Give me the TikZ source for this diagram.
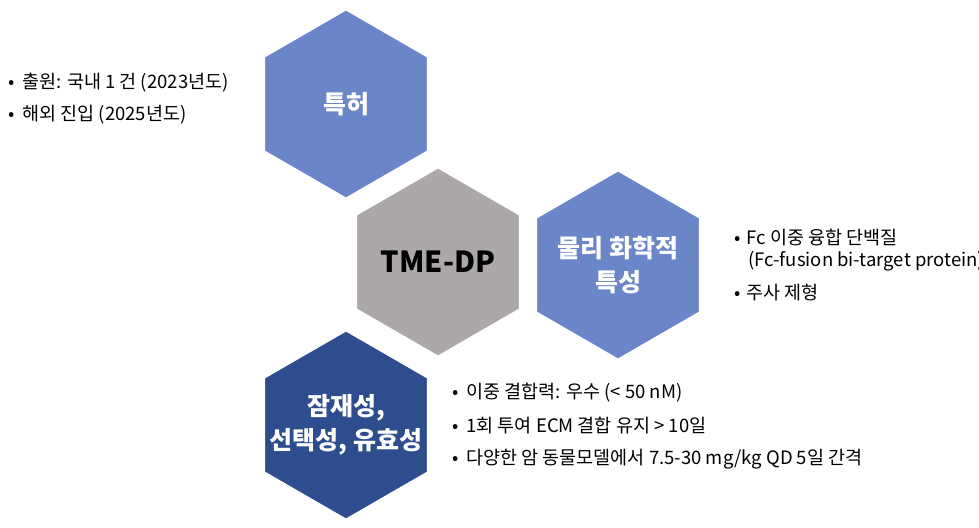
\documentclass[tikz,border=0pt]{standalone}
\usepackage{fontspec}
\setmainfont{Noto Sans CJK KR}
\usetikzlibrary{shapes.geometric}
\definecolor{lb}{HTML}{6A86C8}
\definecolor{gr}{HTML}{ADA8A8}
\definecolor{db}{HTML}{2E4D8E}
\tikzset{hex/.style={regular polygon,regular polygon sides=6,shape border rotate=30,minimum size=188pt,inner sep=0pt,draw=white,line width=1pt},
hextext/.style={align=center,font=\bfseries\fontsize{25}{34}\selectfont,text=white,inner sep=0pt},
bul/.style={anchor=west,font=\fontsize{18.5}{22}\selectfont,align=left,inner sep=0pt}}
\begin{document}
\begin{tikzpicture}[x=1pt,y=-1pt]
\useasboundingbox (0,0) rectangle (979,527);
\node[hex,fill=lb] (pat) at (346,104) {};
\node[hextext] (patt) at (pat.center) {특허};
\node[hex,fill=gr] (tme) at (438,262) {};
\node[hextext,text=black,font=\bfseries\fontsize{29}{34}\selectfont] (tmet) at (tme.center) {TME-DP};
\node[hex,fill=lb] (phy) at (618,265) {};
\node[hextext] (phyt) at (phy.center) {물리 화학적\\특성};
\node[hex,fill=db] (pot) at (346,425) {};
\node[hextext] (pott) at (pot.center) {잠재성,\\선택성, 유효성};
\node[bul] (a1) at (8,83) {•\hspace{8pt}출원: 국내 1 건 (2023년도)};
\node[bul] (a2) at (8,115) {•\hspace{8pt}해외 진입 (2025년도)};
\node[bul] (b1) at (734,250) {•\hspace{6pt}Fc 이중 융합 단백질\\\hspace{14pt}(Fc-fusion bi-target protein)};
\node[bul] (b2) at (734,292) {•\hspace{6pt}주사 제형};
\node[bul] (c1) at (452,393) {•\hspace{8pt}이중 결합력: 우수 (< 50 nM)};
\node[bul] (c2) at (452,426) {•\hspace{8pt}1회 투여 ECM 결합 유지 > 10일};
\node[bul] (c3) at (452,459) {•\hspace{8pt}다양한 암 동물모델에서 7.5-30 mg/kg QD 5일 간격};
\end{tikzpicture}
\end{document}
